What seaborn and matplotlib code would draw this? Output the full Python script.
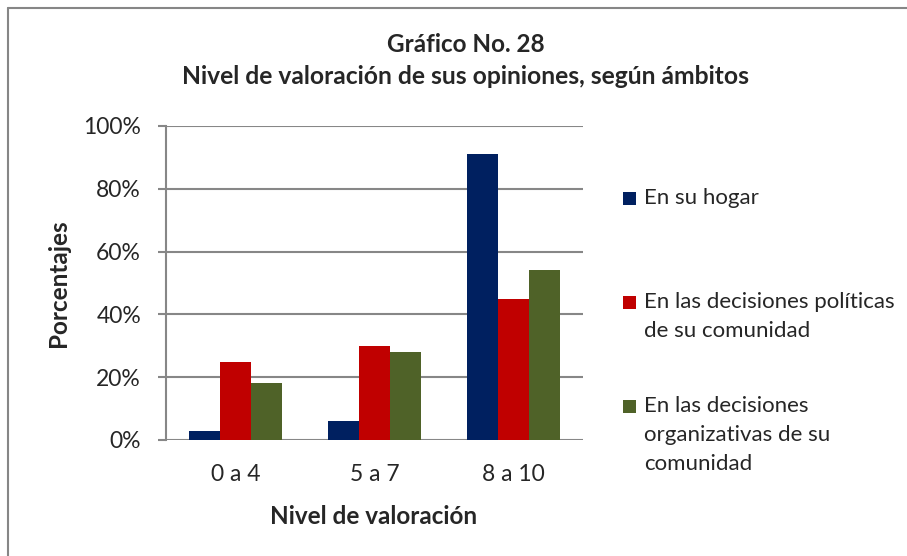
import matplotlib
matplotlib.use("Agg")
import matplotlib.pyplot as plt
import seaborn as sns
import pandas as pd
from matplotlib.patches import Rectangle
from matplotlib.lines import Line2D

categories = ["0 a 4", "5 a 7", "8 a 10"]
series_names = ["En su hogar",
                "En las decisiones políticas\nde su comunidad",
                "En las decisiones\norganizativas de su\ncomunidad"]
hogar = [3, 6, 91]
politicas = [25, 30, 45]
organizativas = [18, 28, 54]
colors = ["#002060", "#C00000", "#4F6228"]
yticks = [0, 20, 40, 60, 80, 100]

rows = []
for name, vals in zip(series_names, [hogar, politicas, organizativas]):
    for c, v in zip(categories, vals):
        rows.append({"cat": c, "serie": name, "val": v})
df = pd.DataFrame(rows)

sns.set_style("white")
plt.rcParams['font.family'] = ['Lato', 'DejaVu Sans']

W, H = 907, 556
fig = plt.figure(figsize=(W/100, H/100), dpi=100)
ax = fig.add_axes([166/W, 1-440/H, (583-166)/W, (440-126)/H])

sns.barplot(data=df, x="cat", y="val", hue="serie", hue_order=series_names,
            palette=colors, width=2/3, gap=0, ax=ax, legend=False,
            saturation=1, edgecolor="none", zorder=3)

ax.set_ylim(0, 100)
ax.set_xlim(-0.5, 2.5)
ax.set_yticks(yticks)
ax.set_yticklabels([f"{t}%" for t in yticks], fontsize=16.5)
ax.tick_params(axis="y", length=6, width=1.5, color="#878787", pad=12, direction="out", left=True)
ax.tick_params(axis="x", length=0, labelsize=16.5, pad=17)
ax.yaxis.grid(True, color="#878787", linewidth=1.5, zorder=0)
ax.set_axisbelow(True)
for s in ["top", "right", "bottom"]:
    ax.spines[s].set_visible(False)
ax.spines["left"].set_color("#878787")
ax.spines["left"].set_linewidth(1.5)

ax.set_xlabel("Nivel de valoración", fontsize=17.5, fontweight="bold", va="center")
ax.xaxis.set_label_coords((374-166)/(583-166), (440-516)/(440-126))
ax.set_ylabel("Porcentajes", fontsize=17.5, fontweight="bold", va="center")
ax.yaxis.set_label_coords((58-166)/(583-166), (440-283)/(440-126))

fig.text(466/W, 1-45/H, "Gráfico No. 28", ha="center", va="center",
         fontsize=17.5, fontweight="bold")
fig.text(466/W, 1-76/H, "Nivel de valoración de sus opiniones, según ámbitos",
         ha="center", va="center", fontsize=17.7, fontweight="bold")

# legend (Excel style: marker aligned with first line)
leg_marker_x = 623
leg_text_x = 644
leg_first_y = [198, 302, 406]
line_step = 29
for name, col, y0 in zip(series_names, colors, leg_first_y):
    fig.add_artist(Rectangle((leg_marker_x/W, 1-(y0+7)/H), 13/W, 13/H,
                             transform=fig.transFigure, facecolor=col, edgecolor="none"))
    for i, line in enumerate(name.split("\n")):
        fig.text(leg_text_x/W, 1-(y0+i*line_step)/H, line, ha="left", va="center",
                 fontsize=16)

# chart border (top and left visible)
fig.add_artist(Line2D([7.5/W, 7.5/W], [0, 1-7.5/H], transform=fig.transFigure,
                      color="#868686", linewidth=1.5))
fig.add_artist(Line2D([7.5/W, 1], [1-7.5/H, 1-7.5/H], transform=fig.transFigure,
                      color="#868686", linewidth=1.5))

fig.savefig("out.png", dpi=100)
